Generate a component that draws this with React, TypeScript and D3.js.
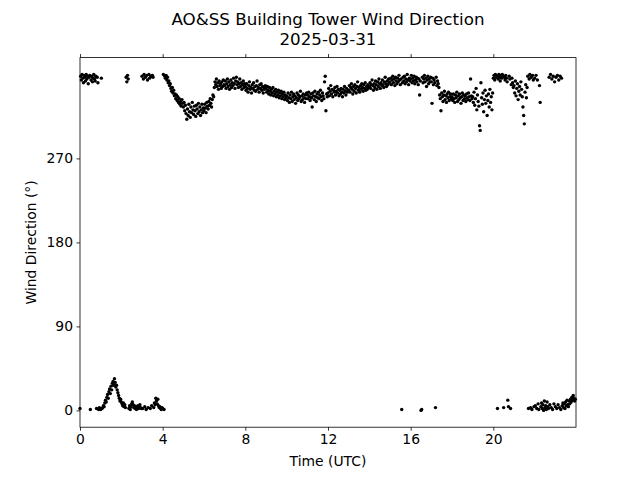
import React, { useEffect, useRef } from 'react';
import * as d3 from 'd3';

// wind direction (deg), one reading every 2 minutes
const stepMinutes = 2;

// 00-06 UTC
const dirNight = [
  2, 358, 354, 360, 356, 351, 359, 357, 353, 360, 355, 358, 350, 357, 359, 1, 354, 358, 352, 356, 360, 355, 353, 358, 2, 357, 351, 1, 3, 2,
  1, 356, 2, 3, 5, 4, 8, 11, 9, 14, 17, 13, 20, 23, 18, 26, 22, 29, 31, 27, 34, 30, 25, 27, 22, 19, 16, 13, 10, 12,
  9, 7, 5, 8, 4, 6, 3, 357, 352, 359, 355, 2, 5, 1, 4, 7, 9, 6, 3, 5, 2, 4, 1, 3, 5, 2, 4, 6, 3, 2,
  358, 2, 355, 360, 4, 357, 1, 359, 354, 3, 360, 356, 2, 358, 5, 359, 357, 3, 8, 6, 13, 10, 7, 12, 5, 3, 4, 2, 1, 3,
  2, 360, 1, 358, 356, 359, 354, 357, 351, 353, 348, 350, 345, 342, 346, 340, 343, 337, 339, 334, 338, 332, 336, 330, 334, 328, 331, 326, 333, 329,
  325, 330, 321, 327, 318, 312, 323, 316, 328, 320, 314, 325, 319, 330, 322, 317, 326, 321, 315, 327, 323, 318, 329, 320, 325, 316, 322, 328, 319, 324,
];

// 06-12 UTC
const dirMorning = [
  321, 328, 324, 319, 330, 326, 323, 331, 327, 334, 329, 325, 333, 338, 336, 346, 352, 349, 355, 347, 351, 344, 353, 348, 350, 345, 352, 347, 354, 349,
  348, 353, 345, 350, 355, 347, 352, 344, 349, 354, 346, 351, 348, 356, 350, 345, 353, 357, 349, 352, 346, 350, 355, 347, 351, 344, 349, 353, 346, 350,
  347, 343, 350, 345, 341, 348, 352, 344, 346, 340, 349, 345, 351, 343, 347, 342, 348, 353, 344, 346, 341, 349, 345, 350, 343, 347, 340, 346, 344, 348,
  345, 341, 347, 343, 339, 346, 342, 338, 344, 340, 346, 337, 342, 339, 344, 336, 341, 338, 343, 335, 340, 337, 342, 334, 339, 336, 341, 333, 338, 335,
  337, 332, 340, 335, 330, 338, 334, 341, 331, 336, 339, 333, 337, 329, 335, 340, 332, 338, 334, 336, 342, 331, 337, 333, 339, 335, 330, 338, 334, 340,
  338, 334, 341, 336, 332, 339, 335, 325, 340, 337, 333, 342, 336, 331, 339, 335, 341, 334, 338, 343, 336, 332, 340, 337, 334, 352, 358, 321, 339, 336,
];

// 12-18 UTC
const dirAfternoon = [
  340, 345, 337, 342, 348, 339, 344, 336, 343, 341, 346, 338, 342, 347, 340, 344, 337, 343, 339, 345, 341, 336, 344, 340, 347, 342, 338, 345, 341, 343,
  343, 348, 341, 346, 350, 344, 339, 347, 342, 349, 345, 340, 347, 352, 343, 346, 341, 348, 344, 350, 346, 342, 349, 345, 351, 343, 347, 344, 349, 346,
  347, 351, 345, 349, 354, 348, 343, 350, 346, 353, 349, 344, 352, 347, 355, 350, 345, 351, 348, 354, 349, 346, 352, 357, 350, 347, 353, 349, 355, 351,
  352, 356, 349, 354, 358, 351, 355, 348, 357, 353, 350, 356, 352, 359, 354, 349, 355, 1, 351, 357, 353, 358, 350, 355, 352, 360, 354, 349, 356, 353,
  355, 359, 351, 356, 353, 358, 350, 354, 357, 352, 356, 349, 355, 338, 353, 0, 1, 357, 351, 355, 359, 352, 356, 347, 354, 358, 350, 355, 352, 357,
  352, 329, 356, 349, 354, 351, 3, 357, 348, 353, 350, 346, 338, 334, 321, 340, 336, 331, 338, 342, 333, 337, 330, 339, 335, 341, 332, 336, 339, 334,
];

// 18-24 UTC
const dirEvening = [
  336, 332, 339, 334, 330, 338, 335, 341, 331, 337, 333, 339, 335, 329, 336, 340, 332, 338, 334, 337, 331, 339, 335, 333, 340, 336, 332, 355, 337, 334,
  336, 330, 341, 327, 334, 345, 322, 338, 331, 326, 305, 300, 351, 335, 328, 340, 320, 333, 343, 329, 337, 316, 332, 339, 325, 344, 330, 336, 322, 340,
  356, 359, 354, 360, 357, 358, 2, 355, 360, 357, 353, 359, 356, 360, 358, 3, 357, 354, 359, 356, 352, 11, 4, 358, 355, 2, 349, 356, 351, 346,
  348, 340, 353, 337, 345, 350, 333, 342, 347, 338, 352, 344, 336, 325, 316, 307, 341, 349, 335, 346, 358, 2, 355, 360, 3, 357, 1, 359, 354, 4,
  356, 5, 359, 2, 354, 7, 1, 348, 330, 4, 8, 2, 6, 0, 10, 3, 5, 1, 9, 4, 2, 357, 6, 360, 3, 355, 1, 358, 7, 352,
  4, 357, 2, 359, 6, 354, 3, 358, 1, 356, 5, 8, 3, 7, 2, 9, 5, 11, 6, 4, 10, 7, 12, 9, 14, 11, 16, 13, 10, 12,
];

const blockStarts = [0, 6, 12, 18];
const xTicks = [0, 4, 8, 12, 16, 20];
const yTicks = [0, 90, 180, 270];
const title = 'AO&SS Building Tower Wind Direction';
const subtitle = '2025-03-31';

const App = () => {
  const ref = useRef<SVGSVGElement>(null);

  useEffect(() => {
    const width = 640, height = 480;
    const margin = { top: 57.6, right: 64, bottom: 52.8, left: 80 };
    const font = '"DejaVu Sans", sans-serif';

    const svg = d3.select(ref.current);
    svg.selectAll('*').remove();

    const x = d3.scaleLinear().domain([0, 24]).range([margin.left, width - margin.right]);
    const y = d3.scaleLinear().domain([-18, 378]).range([height - margin.bottom, margin.top]);

    const points: { t: number; d: number }[] = [];
    [dirNight, dirMorning, dirAfternoon, dirEvening].forEach((block, b) => {
      block.forEach((d, i) => points.push({ t: blockStarts[b] + (i * stepMinutes) / 60, d }));
    });

    svg.append('rect').attr('width', width).attr('height', height).attr('fill', 'white');

    svg.append('g')
      .selectAll('circle')
      .data(points)
      .enter().append('circle')
      .attr('cx', (p) => x(p.t))
      .attr('cy', (p) => y(p.d))
      .attr('r', 1.7)
      .attr('fill', 'black');

    const bottom = svg.append('g')
      .attr('transform', `translate(0,${height - margin.bottom})`)
      .call(d3.axisBottom(x).tickValues(xTicks).tickSize(3.5).tickPadding(3.5).tickFormat(d3.format('d')));
    const top = svg.append('g')
      .attr('transform', `translate(0,${margin.top})`)
      .call(d3.axisTop(x).tickValues(xTicks).tickSize(3.5).tickFormat(() => ''));
    const left = svg.append('g')
      .attr('transform', `translate(${margin.left},0)`)
      .call(d3.axisLeft(y).tickValues(yTicks).tickSize(3.5).tickPadding(3.5).tickFormat(d3.format('d')));

    [bottom, top, left].forEach((g) => {
      g.select('.domain').remove();
      g.selectAll('line').attr('stroke', 'black').attr('stroke-width', 0.8);
      g.selectAll('text').attr('fill', 'black').style('font-family', font).style('font-size', '13.9px');
    });

    svg.append('rect')
      .attr('x', margin.left).attr('y', margin.top)
      .attr('width', width - margin.left - margin.right)
      .attr('height', height - margin.top - margin.bottom)
      .attr('fill', 'none').attr('stroke', 'black').attr('stroke-width', 0.8);

    const cx = (margin.left + width - margin.right) / 2;
    svg.append('text').attr('x', cx).attr('y', 25).attr('text-anchor', 'middle')
      .style('font-family', font).style('font-size', '16.7px').text(title);
    svg.append('text').attr('x', cx).attr('y', 45).attr('text-anchor', 'middle')
      .style('font-family', font).style('font-size', '16.7px').text(subtitle);

    svg.append('text').attr('x', cx).attr('y', 466).attr('text-anchor', 'middle')
      .style('font-family', font).style('font-size', '13.9px').text('Time (UTC)');
    svg.append('text')
      .attr('transform', `translate(36,${(margin.top + height - margin.bottom) / 2}) rotate(-90)`)
      .attr('text-anchor', 'middle')
      .style('font-family', font).style('font-size', '13.9px').text('Wind Direction (°)');
  }, []);

  return <svg ref={ref} width={640} height={480} style={{ position: 'absolute', left: 0, top: 0 }} />;
};

export default App;
